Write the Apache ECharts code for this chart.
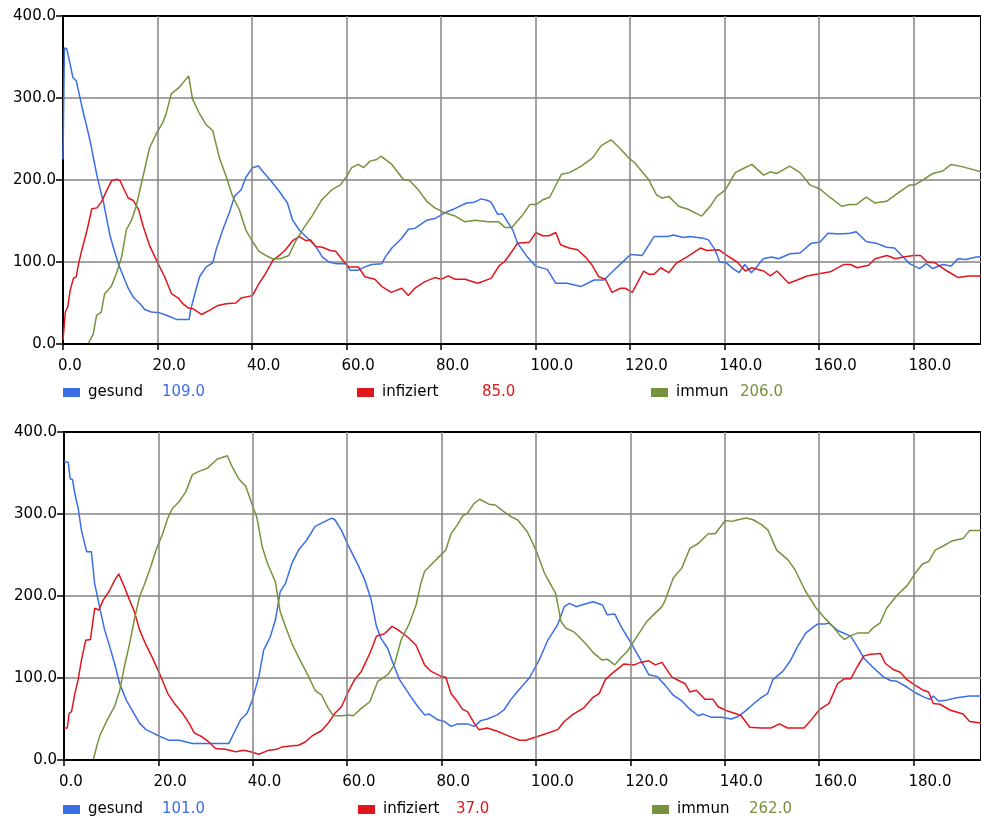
<!DOCTYPE html>
<html>
<head>
<meta charset="utf-8">
<script src="https://cdn.jsdelivr.net/npm/echarts@6/dist/echarts.min.js"></script>
<style>
html,body{margin:0;padding:0;background:#fff;}
#c{width:981px;height:819px;}
</style>
</head>
<body>
<div id="c"></div>
<script>
// ---- data (time, value) ----
const seriesNames = ['gesund', 'infiziert', 'immun'];
const topLegendValues = ['109.0', '85.0', '206.0'];
const botLegendValues = ['101.0', '37.0', '262.0'];
const yTicks = [0, 100, 200, 300, 400];
const xTickStep = 20;

const topGesund = [[0,225],[0.3,361],[0.8,360],[1.4,344],[2.1,325],[2.8,321],[3.5,303],[4.3,282],[5.0,266],[5.8,246],[6.5,225],[7.2,205],[7.9,188],[8.6,172],[9.3,151],[10.0,131],[10.7,117],[11.7,98],[12.8,82],[13.8,68],[14.9,57],[16.3,49],[17.3,42],[18.7,39],[20.5,38],[21.9,35],[24.0,30],[26.7,30],[27.0,41],[27.9,61],[28.9,82],[30.3,94],[31.7,99],[32.4,115],[33.8,139],[35.2,160],[36.3,180],[37.7,188],[38.7,203],[40.1,215],[41.4,217],[42.2,211],[44.0,199],[45.8,186],[47.5,172],[48.6,151],[50.0,139],[51.4,131],[53.5,119],[54.9,106],[56.3,100],[57.7,98],[59.8,98],[60.8,90],[62.5,90],[63.9,94],[65.3,97],[67.5,98],[68.2,106],[69.6,117],[71.7,129],[73.1,140],[74.5,141],[77.0,151],[78.7,153],[80.8,160],[82.9,165],[85.4,172],[87.1,173],[88.5,177],[89.9,175],[90.6,173],[92.0,158],[93.0,159],[94.1,149],[95.2,139],[96.2,123],[98.3,106],[100.0,95],[102.5,91],[104.3,74],[106.7,74],[109.6,70],[112.4,78],[114.5,78],[116.6,90],[118.1,98],[120.1,109],[122.6,108],[125.1,131],[127.9,131],[129.2,133],[131.3,130],[132.7,131],[135.5,129],[136.6,127],[138.0,115],[139.0,100],[140.4,99],[141.8,92],[143.1,87],[144.3,97],[145.7,87],[146.8,94],[148.2,104],[150.0,106],[151.4,104],[153.9,110],[156.0,111],[158.4,123],[160.2,124],[161.9,135],[164.4,134],[166.5,135],[167.9,137],[170.0,125],[172.1,123],[174.3,118],[176.0,117],[177.8,106],[179.2,98],[181.3,92],[182.7,98],[184.1,92],[186.2,97],[188.0,95],[189.4,104],[191.1,103],[193.3,106],[194.3,106]];

const topInfiziert = [[0,5],[0.5,39],[1.0,45],[1.5,65],[2.2,80],[2.8,82],[3.3,98],[4.0,115],[5.1,139],[6.1,165],[7.2,166],[8.2,174],[9.3,188],[10.3,199],[11.4,201],[12.1,199],[12.8,190],[13.8,178],[14.9,175],[16.0,164],[17.0,143],[18.4,119],[19.8,102],[21.5,82],[23.0,61],[24.4,56],[25.4,49],[26.5,44],[27.5,43],[29.3,36],[31.0,41],[32.8,47],[34.5,49],[36.6,50],[37.7,56],[40.1,59],[41.5,74],[42.9,86],[44.4,102],[45.8,108],[47.1,115],[48.6,126],[50.0,131],[51.4,126],[52.4,127],[53.5,119],[54.9,118],[56.6,114],[57.7,113],[59.1,103],[60.5,94],[62.5,94],[63.9,82],[66.0,79],[67.5,70],[69.5,63],[71.7,68],[73.1,59],[74.5,68],[76.6,76],[78.7,81],[80.1,79],[81.5,83],[83.0,79],[85.1,79],[87.8,74],[90.6,80],[92.4,96],[93.4,100],[94.8,111],[96.2,123],[98.7,124],[100.1,136],[101.5,132],[102.9,132],[104.3,136],[105.3,121],[107.1,117],[108.9,115],[110.6,106],[112.0,96],[113.4,82],[114.8,79],[116.2,63],[118.0,68],[119.0,68],[120.5,63],[122.9,89],[124.0,85],[125.1,85],[126.5,93],[128.2,87],[129.9,99],[132.0,106],[134.9,117],[136.3,114],[138.8,115],[140.5,108],[142.7,100],[144.4,89],[145.8,93],[148.3,89],[149.7,83],[151.1,89],[153.6,74],[155.4,78],[157.5,83],[160.3,86],[162.4,88],[165.3,97],[166.7,97],[168.1,93],[170.5,96],[171.9,104],[174.4,108],[176.2,104],[177.9,106],[180.0,108],[181.5,108],[182.9,100],[184.6,99],[187.1,89],[189.5,81],[191.7,83],[194.3,83]];

const topImmun = [[0,0],[5.3,0],[6.4,12],[7.1,35],[8.1,39],[8.8,61],[10.2,70],[11.3,86],[12.4,106],[13.4,139],[14.5,151],[15.5,168],[16.6,196],[17.6,221],[18.3,239],[19.7,256],[21.1,270],[21.8,280],[22.9,305],[24.6,313],[26.6,327],[27.4,299],[28.8,282],[30.2,268],[31.7,260],[33.1,227],[34.5,205],[35.9,180],[37.3,164],[38.7,139],[40.1,125],[41.5,113],[42.9,108],[44.3,104],[46.0,104],[47.8,108],[49.2,125],[50.9,141],[52.7,156],[54.8,176],[56.9,188],[58.7,194],[60.1,205],[61.1,215],[62.5,219],[63.6,215],[65.0,223],[66.4,225],[67.3,229],[69.6,219],[72.0,201],[73.4,199],[75.2,188],[77.0,174],[78.7,166],[80.8,160],[83.0,156],[85.1,149],[87.2,151],[90.0,149],[92.2,149],[93.6,142],[95.0,142],[97.1,156],[98.8,170],[100.1,170],[101.6,176],[103.0,179],[105.5,207],[107.2,209],[109.7,217],[112.1,227],[113.9,242],[116.0,249],[117.8,239],[119.7,227],[121.0,221],[123.9,201],[125.6,182],[126.8,178],[128.2,180],[130.3,168],[132.4,164],[133.8,160],[135.2,156],[137.0,168],[138.4,180],[140.2,188],[142.3,209],[144.0,214],[145.8,219],[148.3,206],[149.7,210],[151.1,208],[153.8,217],[156.0,209],[158.1,194],[160.2,189],[162.3,179],[164.8,168],[166.5,170],[167.9,170],[170.0,179],[171.8,172],[174.3,174],[176.7,184],[179.2,194],[180.3,194],[182.0,200],[184.1,208],[186.2,211],[188.0,219],[190.5,216],[194.3,210]];

const botGesund = [[0,364],[0.9,363],[1.3,343],[1.8,342],[2.3,325],[3.0,307],[3.7,280],[4.8,254],[5.8,254],[6.5,215],[7.6,185],[8.6,159],[9.7,138],[10.7,118],[11.8,93],[13.2,73],[14.6,59],[16.0,45],[17.4,37],[18.8,33],[20.2,29],[22.3,24],[24.4,24],[27.2,20],[30.7,20],[34.9,20],[35.6,28],[37.4,49],[38.8,57],[39.9,73],[41.3,102],[42.3,134],[43.7,150],[44.8,171],[45.8,205],[46.9,215],[48.3,240],[49.7,256],[51.4,268],[53.2,285],[55.3,291],[56.7,295],[57.4,293],[58.8,280],[60.2,262],[62.3,238],[63.7,220],[65.1,195],[66.2,163],[67.2,148],[68.6,136],[69.7,118],[71.1,98],[73.5,77],[75.0,65],[76.4,55],[77.4,56],[79.2,49],[80.6,47],[82.0,41],[83.4,44],[85.5,44],[86.9,41],[88.3,48],[89.7,50],[91.8,55],[93.2,61],[94.6,73],[96.0,83],[98.6,100],[100.7,122],[102.5,146],[104.6,165],[106.0,187],[107.1,191],[108.5,187],[110.2,190],[112.1,193],[114.1,189],[115.1,177],[116.7,178],[118.2,161],[120.0,144],[121.8,126],[123.9,104],[125.6,102],[127.4,91],[129.1,79],[130.9,72],[132.6,62],[134.4,54],[135.4,56],[137.2,52],[139.3,52],[141.4,50],[142.8,53],[144.2,59],[146.0,68],[147.7,76],[149.1,81],[150.2,98],[152.3,108],[154.0,122],[155.4,138],[157.2,155],[159.7,166],[161.4,166],[162.1,167],[163.9,158],[166.7,151],[168.1,138],[169.5,124],[171.6,112],[173.7,101],[175.1,97],[176.5,96],[178.6,89],[180.4,82],[182.1,77],[183.5,74],[184.2,78],[185.3,72],[187.0,73],[189.1,76],[191.9,78],[194.3,78]];

const botInfiziert = [[0,39],[0.7,39],[1.1,57],[1.6,59],[2.3,81],[3.0,98],[3.7,122],[4.6,146],[5.6,147],[6.5,185],[7.4,183],[8.3,195],[9.7,207],[10.7,219],[11.6,227],[12.8,211],[13.9,195],[14.9,181],[16.0,159],[17.4,140],[18.8,124],[20.2,106],[22.0,81],[23.4,69],[25.1,57],[26.5,45],[27.6,33],[29.3,28],[30.7,22],[32.1,14],[34.2,13],[36.4,10],[38.1,12],[39.5,10],[41.3,7],[43.4,12],[45.1,13],[46.2,16],[47.9,17],[49.7,18],[51.1,22],[52.5,29],[54.6,36],[56.0,45],[57.4,57],[58.8,65],[60.2,83],[61.6,98],[63.0,108],[64.8,130],[66.2,151],[67.9,154],[69.5,163],[70.7,159],[72.8,150],[74.6,140],[76.4,116],[77.8,108],[79.9,102],[80.9,101],[82.0,81],[83.4,71],[84.4,62],[85.5,59],[86.9,45],[87.9,37],[89.7,39],[91.8,35],[93.9,30],[96.5,24],[97.9,24],[100.0,28],[102.1,32],[104.6,37],[106.0,47],[107.7,55],[110.2,64],[112.0,76],[113.4,81],[114.7,98],[116.2,106],[118.6,117],[120.8,116],[122.1,119],[123.9,121],[125.3,116],[126.7,119],[128.8,101],[130.2,97],[131.6,93],[132.6,83],[134.0,85],[135.8,74],[137.5,74],[138.6,65],[140.4,60],[142.1,57],[143.5,54],[145.3,40],[147.7,39],[149.8,39],[151.6,44],[153.3,39],[156.8,39],[158.2,48],[160.0,61],[162.1,69],[163.9,93],[165.3,99],[166.7,99],[168.1,114],[169.5,127],[170.9,129],[173.0,130],[174.0,118],[175.8,110],[177.2,107],[178.6,98],[180.4,91],[182.1,85],[183.2,83],[184.2,69],[185.6,68],[187.7,61],[190.5,56],[191.9,47],[194.3,45]];

const botImmun = [[0,0],[6.2,0],[6.9,16],[7.6,30],[9.0,47],[10.7,65],[11.8,85],[12.8,114],[13.9,142],[14.9,171],[16.0,199],[17.1,215],[18.4,236],[19.5,256],[20.9,276],[22.0,295],[23.0,307],[24.4,315],[25.8,327],[27.2,348],[28.6,352],[30.4,356],[32.5,367],[34.6,371],[35.6,358],[37.0,343],[38.5,334],[39.9,311],[40.9,295],[42.0,260],[43.1,240],[44.8,217],[45.8,181],[46.9,163],[48.3,142],[50.0,122],[51.8,102],[53.2,85],[54.6,79],[56.0,63],[57.1,54],[58.8,54],[60.2,55],[61.3,54],[63.0,63],[64.8,71],[66.5,96],[68.6,104],[70.0,116],[71.4,146],[73.2,167],[74.6,189],[75.6,215],[76.4,230],[78.1,240],[79.5,248],[80.9,256],[82.0,276],[83.4,287],[84.4,297],[85.5,301],[86.9,313],[88.1,318],[90.0,312],[91.4,311],[93.2,303],[94.9,296],[96.1,293],[98.2,278],[100.0,256],[101.8,228],[104.2,203],[105.3,169],[106.3,161],[108.1,156],[110.5,142],[112.3,130],[114.0,122],[115.1,123],[116.7,116],[117.9,124],[119.3,132],[121.1,148],[123.5,169],[124.9,177],[126.7,187],[127.4,195],[129.1,222],[130.9,234],[132.6,258],[134.4,264],[136.5,276],[138.0,276],[140.1,292],[141.5,291],[142.8,293],[144.6,295],[146.0,293],[147.8,287],[149.2,280],[151.0,256],[153.4,244],[154.9,232],[157.0,207],[159.4,185],[161.2,173],[162.9,163],[164.4,152],[165.4,147],[166.8,152],[168.2,155],[170.4,155],[171.4,161],[172.9,167],[174.3,185],[176.5,201],[178.7,213],[180.4,228],[181.9,239],[183.2,242],[184.6,256],[186.3,261],[188.1,267],[190.5,270],[191.9,280],[194.3,280]];

// ---- styling ----
const colors = ['#3a6ee6', '#e0161c', '#76923c'];
const FONT = 'DejaVu Sans';
const FS = 15;
const X_MAX = 194.3;

function xAxisCfg(gi) {
  return {
    type: 'value', gridIndex: gi, min: 0, max: X_MAX, interval: xTickStep, z: 5,
    axisLine: { show: true, onZero: false, lineStyle: { color: '#000', width: 2 } },
    axisTick: { show: true, length: 6, lineStyle: { color: '#000', width: 1.5 } },
    axisLabel: {
      show: true, align: 'left', verticalAlign: 'top', margin: 10, padding: [5, 0, 0, -5],
      color: '#000', fontFamily: FONT, fontSize: FS,
      showMaxLabel: false,
      formatter: v => v.toFixed(1)
    },
    splitLine: { show: true, showMinLine: false, showMaxLine: false, lineStyle: { color: '#858585', width: 1.5 } }
  };
}
function yAxisCfg(gi) {
  return {
    type: 'value', gridIndex: gi, min: yTicks[0], max: yTicks[yTicks.length - 1], interval: 100, z: 1,
    axisLine: { show: true, lineStyle: { color: '#000', width: 2 } },
    axisTick: { show: true, length: 7, lineStyle: { color: '#000', width: 1.5 } },
    axisLabel: { color: '#000', fontFamily: FONT, fontSize: FS, margin: 7, formatter: v => v.toFixed(1) },
    splitLine: { show: true, showMinLine: false, showMaxLine: false, lineStyle: { color: '#858585', width: 1.5 } }
  };
}
function lineSeries(name, data, i, gi) {
  return {
    type: 'line', name: name, data: data, xAxisIndex: gi, yAxisIndex: gi,
    showSymbol: false, symbol: 'none', color: colors[i], z: 2,
    lineStyle: { color: colors[i], width: 1.5 }, animation: false, silent: true
  };
}
const legendLefts = [[63, 357, 651], [63, 358, 652]];
const legendTops = [385, 802];
const nameWidths = [[74, 100, 64], [74, 73, 72]];
const legendValues = [topLegendValues, botLegendValues];
const legends = [];
for (let g = 0; g < 2; g++) {
  for (let i = 0; i < 3; i++) {
    const val = legendValues[g][i];
    legends.push({
      data: [{ name: seriesNames[i], icon: 'rect' }],
      left: legendLefts[g][i], top: legendTops[g], padding: 0,
      itemWidth: 17, itemHeight: 9, selectedMode: false,
      formatter: n => '{n|' + n + '}{v|' + val + '}',
      textStyle: {
        fontFamily: FONT, fontSize: FS, color: '#000',
        rich: {
          n: { fontFamily: FONT, fontSize: FS, color: '#000', width: nameWidths[g][i], padding: [0, 0, 0, 3] },
          v: { fontFamily: FONT, fontSize: FS, color: colors[i] }
        }
      }
    });
  }
}

const chart = echarts.init(document.getElementById('c'), null, { renderer: 'canvas' });
chart.setOption({
  backgroundColor: '#fff',
  animation: false,
  grid: [
    { left: 63, top: 16, right: -5, height: 328, show: true, borderColor: '#000', borderWidth: 2, containLabel: false },
    { left: 64, top: 432, right: -5, height: 328, show: true, borderColor: '#000', borderWidth: 2, containLabel: false }
  ],
  xAxis: [xAxisCfg(0), xAxisCfg(1)],
  yAxis: [yAxisCfg(0), yAxisCfg(1)],
  legend: legends,
  series: [
    lineSeries('gesund', topGesund, 0, 0),
    lineSeries('infiziert', topInfiziert, 1, 0),
    lineSeries('immun', topImmun, 2, 0),
    lineSeries('gesund', botGesund, 0, 1),
    lineSeries('infiziert', botInfiziert, 1, 1),
    lineSeries('immun', botImmun, 2, 1)
  ]
});
</script>
</body>
</html>
